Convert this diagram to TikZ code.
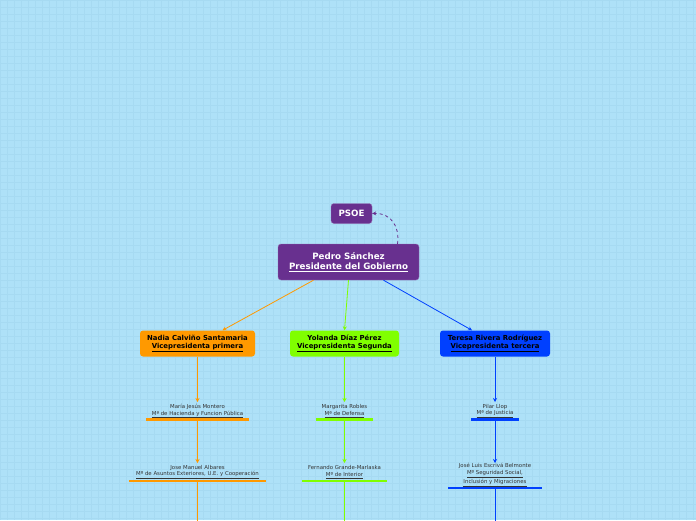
\documentclass[tikz,border=0pt]{standalone}
\usepackage{fontspec}
\setmainfont{DejaVu Sans}
\usetikzlibrary{arrows.meta}
\definecolor{bgc}{HTML}{AEE1F8}
\definecolor{gridc}{HTML}{A6DAF2}
\definecolor{purp}{HTML}{68308F}
\definecolor{orng}{HTML}{FF9900}
\definecolor{grn}{HTML}{80FF00}
\definecolor{blu}{HTML}{0040FF}
\definecolor{txt}{HTML}{333333}
\tikzset{
  topbox/.style={rounded corners=3pt, fill=purp, draw=purp!70!white, text=white, font=\fontsize{8.7}{10.5}\selectfont\bfseries, align=center, inner sep=0pt},
  vbox/.style={rounded corners=3pt, minimum height=26pt, font=\fontsize{6.9}{8.4}\selectfont\bfseries, align=center, inner sep=0pt, text=black},
  mtext/.style={font=\fontsize{5.4}{6.8}\selectfont, align=center, text=txt, inner sep=0pt},
  conn/.style={-{Stealth[length=4pt,width=4pt]}, line width=0.8pt},
  bar/.style={line width=2.6pt},
}
\begin{document}
\begin{tikzpicture}[x=1pt,y=-1pt]
\fill[bgc] (0,0) rectangle (696,520);
\useasboundingbox (0,0) rectangle (696,520);
\begin{scope}
\clip (0,0) rectangle (696,520);
\foreach \i in {0,7,...,700} {\draw[gridc, line width=0.3pt] (\i,0) -- (\i,520);}
\foreach \j in {0,7,...,520} {\draw[gridc, line width=0.3pt] (0,\j) -- (696,\j);}
\end{scope}

% top nodes
\node[topbox, minimum width=41pt, minimum height=20pt] (psoe) at (351.5,213.5) {PSOE};
\node[topbox, minimum width=141pt, minimum height=36pt] (pedro) at (348.5,262) {Pedro Sánchez\\\underline{Presidente del Gobierno}};

% vice presidents
\node[vbox, fill=orng, minimum width=115pt] (nadia) at (197.5,343.5) {Nadia Calviño Santamaria\\\underline{Vicepresidenta primera}};
\node[vbox, fill=grn, minimum width=109pt] (yolanda) at (344.5,343.5) {Yolanda Díaz Pérez\\\underline{Vicepresidenta Segunda}};
\node[vbox, fill=blu, minimum width=110pt] (teresa) at (495,343.5) {Teresa Rivera Rodríguez\\\underline{Vicepresidenta tercera}};

% ministers
\node[mtext] (maria) at (197.5,411) {María Jesús Montero\\\underline{Mª de Hacienda y Funcion Pública}};
\coordinate (mariatop) at (197.5,402);
\coordinate (mariabar) at (197.5,419.5);
\draw[orng, bar] (146,419.5) -- (249,419.5);

\node[mtext] (marg) at (344.5,411) {Margarita Robles\\\underline{Mª de Defensa}};
\coordinate (margtop) at (344.5,402);
\coordinate (margbar) at (344.5,419.5);
\draw[grn, bar] (316,419.5) -- (373,419.5);

\node[mtext] (pilar) at (495,411) {Pilar Llop\\\underline{Mª de Justicia}};
\coordinate (pilartop) at (495,402);
\coordinate (pilarbar) at (495,419.5);
\draw[blu, bar] (471,419.5) -- (519,419.5);

\node[mtext] (albares) at (197.5,472) {Jose Manuel Albares\\\underline{Mº de Asuntos Exteriores, U.E. y Cooperación}};
\coordinate (albarestop) at (197.5,463);
\coordinate (albaresbar) at (197.5,481);
\coordinate (albaresend) at (197.5,522);
\draw[orng, bar] (129,481) -- (265.5,481);

\node[mtext] (marlaska) at (344.5,472) {Fernando Grande-Marlaska\\\underline{Mº de Interior}};
\coordinate (marlaskatop) at (344.5,463);
\coordinate (marlaskabar) at (344.5,481);
\coordinate (marlaskaend) at (344.5,522);
\draw[grn, bar] (302,481) -- (387,481);

\node[mtext] (escriva) at (495,475) {José Luis Escrivá Belmonte\\\underline{Mº Seguridad Social,}\\\underline{Inclusión y Migraciones}};
\coordinate (escrivatop) at (495,463);
\coordinate (escrivabar) at (495,488);
\coordinate (escrivaend) at (495,522);
\draw[blu, bar] (448,488) -- (541.5,488);

% connectors
\draw[purp, dashed, line width=0.8pt, -{Stealth[length=4pt,width=4pt]}] ([xshift=49pt]pedro.north) .. controls (400,228) and (392,213) .. (psoe.east);
\draw[conn, orng] ([xshift=-35pt]pedro.south) -- ([xshift=25pt]nadia.north);
\draw[conn, grn] ([xshift=0pt]pedro.south) -- (yolanda.north);
\draw[conn, blu] ([xshift=35pt]pedro.south) -- ([xshift=-23pt]teresa.north);

\draw[conn, orng] (nadia.south) -- (mariatop);
\draw[conn, orng] (mariabar) -- (albarestop);
\draw[orng, line width=0.8pt] (albaresbar) -- (albaresend);

\draw[conn, grn] (yolanda.south) -- (margtop);
\draw[conn, grn] (margbar) -- (marlaskatop);
\draw[grn, line width=0.8pt] (marlaskabar) -- (marlaskaend);

\draw[conn, blu] (teresa.south) -- (pilartop);
\draw[conn, blu] (pilarbar) -- (escrivatop);
\draw[blu, line width=0.8pt] (escrivabar) -- (escrivaend);
\end{tikzpicture}
\end{document}
